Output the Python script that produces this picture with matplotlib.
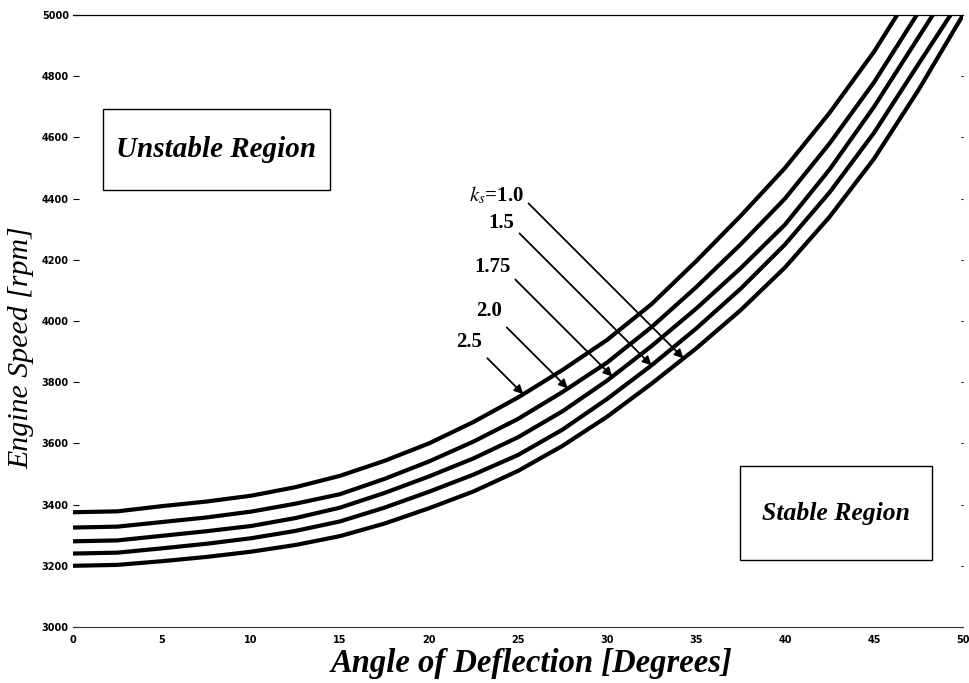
import numpy as np
import matplotlib
matplotlib.use("Agg")
import matplotlib.pyplot as plt
from matplotlib.patches import Rectangle

plt.rcParams['mathtext.fontset'] = 'stix'

# stability boundary for each spring ratio k_s: deflection angle [deg] vs engine speed [rpm]
ks_labels = [r'$k_s$=1.0', '1.5', '1.75', '2.0', '2.5']

angle_k10 = [0, 2.5, 5, 7.5, 10, 12.5, 15, 17.5, 20, 22.5, 25, 27.5, 30,
             32.5, 35, 37.5, 40, 42.5, 45, 47.5, 50]
rpm_k10 = [3200, 3203, 3215, 3229, 3246, 3268, 3297, 3338, 3388, 3443, 3510,
           3592, 3687, 3795, 3910, 4035, 4175, 4340, 4530, 4755, 5000]

angle_k15 = [0, 2.5, 5, 7.5, 10, 12.5, 15, 17.5, 20, 22.5, 25, 27.5, 30,
             32.5, 35, 37.5, 40, 42.5, 45, 47.5, 49.3]
rpm_k15 = [3240, 3243, 3257, 3272, 3290, 3314, 3345, 3390, 3442, 3498, 3562,
           3645, 3745, 3855, 3975, 4105, 4250, 4420, 4615, 4840, 5000]

angle_k175 = [0, 2.5, 5, 7.5, 10, 12.5, 15, 17.5, 20, 22.5, 25, 27.5, 30,
              32.5, 35, 37.5, 40, 42.5, 45, 48.3]
rpm_k175 = [3280, 3283, 3298, 3313, 3330, 3356, 3390, 3438, 3492, 3551, 3620,
            3705, 3805, 3918, 4040, 4172, 4315, 4495, 4700, 5000]

angle_k20 = [0, 2.5, 5, 7.5, 10, 12.5, 15, 17.5, 20, 22.5, 25, 27.5, 30,
             32.5, 35, 37.5, 40, 42.5, 45, 47.4]
rpm_k20 = [3325, 3328, 3343, 3358, 3377, 3403, 3434, 3484, 3541, 3606, 3680,
           3768, 3864, 3980, 4110, 4250, 4400, 4580, 4780, 5000]

angle_k25 = [0, 2.5, 5, 7.5, 10, 12.5, 15, 17.5, 20, 22.5, 25, 27.5, 30,
             32.5, 35, 37.5, 40, 42.5, 45, 46.3]
rpm_k25 = [3375, 3378, 3395, 3410, 3429, 3457, 3494, 3543, 3600, 3670, 3750,
           3840, 3938, 4055, 4195, 4343, 4500, 4680, 4880, 5000]

curves = [(angle_k10, rpm_k10), (angle_k15, rpm_k15), (angle_k175, rpm_k175),
          (angle_k20, rpm_k20), (angle_k25, rpm_k25)]

# where each leader arrow touches its curve, and leader length (pixels, 45 deg)
arrow_angles = [34.3, 32.5, 30.3, 27.8, 25.3]
arrow_len = [155, 132, 97, 61, 36]
label_rise = [8, 10, 13, 16, 16]

x_ticks = np.arange(0, 51, 5)
y_ticks = np.arange(3000, 5001, 200)

fig = plt.figure(figsize=(9.69, 6.83), dpi=100)
ax = fig.add_axes([0.0753, 0.082, 0.9185, 0.896])

for xs, ys in curves:
    ax.plot(xs, ys, color='black', lw=3.0, solid_joinstyle='round')

ax.set_xlim(0, 50)
ax.set_ylim(3000, 5000)
ax.set_xticks(x_ticks)
ax.set_yticks(y_ticks)

tick_font = dict(family='DejaVu Sans', weight='bold', size=7)
ax.set_xticklabels([str(v) for v in x_ticks], fontdict=tick_font)
ax.set_yticklabels([str(v) for v in y_ticks], fontdict=tick_font)
ax.tick_params(axis='x', length=0, pad=6)
ax.tick_params(axis='y', direction='in', length=4, width=0.8, pad=3, right=True)
for t in ax.yaxis.get_major_ticks():
    t.tick2line.set_markersize(1.5)

for side in ['left', 'right']:
    ax.spines[side].set_visible(False)
ax.spines['top'].set_linewidth(0.9)
ax.spines['bottom'].set_linewidth(0.8)
ax.spines['bottom'].set_color('#333333')

ax.set_xlabel('Angle of Deflection [Degrees]', family='Liberation Serif',
              style='italic', weight='bold', size=23.5)
ax.xaxis.set_label_coords(0.515, -0.034)
ax.set_ylabel('Engine Speed [rpm]', family='Liberation Serif',
              style='italic', size=21.5)
ax.yaxis.set_label_coords(-0.043, 0.457)

# leader arrows pointing at each curve
for (xs, ys), a, L, rise, lab in zip(curves, arrow_angles, arrow_len,
                                      label_rise, ks_labels):
    tip = (a, np.interp(a, xs, ys))
    ax.annotate('', xy=tip, xytext=(-L, L), textcoords='offset pixels',
                arrowprops=dict(arrowstyle='-|>', color='black', lw=1.3,
                                mutation_scale=13, shrinkA=0, shrinkB=0))
    ax.annotate(lab, xy=tip, xytext=(-L - 5, L + rise),
                textcoords='offset pixels', ha='right', va='center',
                family='Liberation Serif', weight='bold', size=15)

# region boxes
ax.add_patch(Rectangle((0.0337, 0.714), 0.2551, 0.132, transform=ax.transAxes,
                       fill=False, lw=1.0, ec='black'))
ax.text(0.1613, 0.780, 'Unstable Region', transform=ax.transAxes,
        ha='center', va='center', family='Liberation Serif', style='italic',
        weight='bold', size=21)
ax.add_patch(Rectangle((0.749, 0.109), 0.216, 0.154, transform=ax.transAxes,
                       fill=False, lw=1.0, ec='black'))
ax.text(0.857, 0.186, 'Stable Region', transform=ax.transAxes,
        ha='center', va='center', family='Liberation Serif', style='italic',
        weight='bold', size=18.5)

fig.savefig('out.png', dpi=100)
